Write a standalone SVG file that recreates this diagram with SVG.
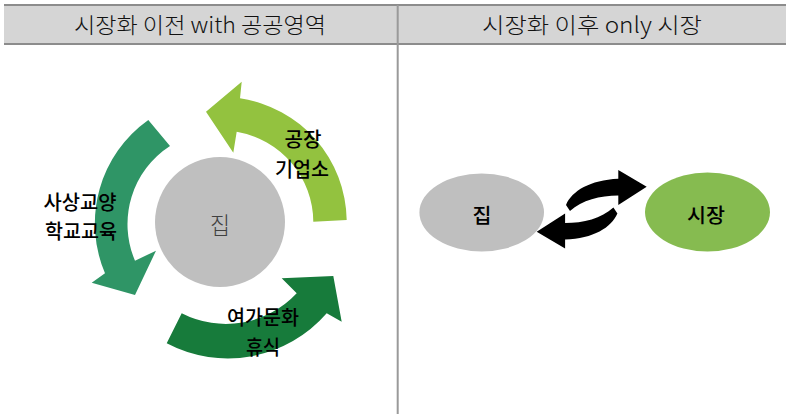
<svg xmlns="http://www.w3.org/2000/svg" width="787" height="414" viewBox="0 0 787 414">
  <style>
    .hdr { font-family: "Noto Sans CJK KR", "Noto Sans", sans-serif; font-size: 22px; font-weight: 300; fill: #111; text-anchor: middle; }
    .lbl { font-family: "Noto Sans CJK KR", "Noto Sans", sans-serif; font-size: 20px; font-weight: 500; fill: #000; text-anchor: middle; }
    .big { font-family: "Noto Sans CJK KR", "Noto Sans", sans-serif; font-size: 24px; font-weight: 300; fill: #404040; text-anchor: middle; }
    .rule { stroke: #8c8c8c; stroke-width: 2; }
  </style>
  <rect width="787" height="414" fill="#ffffff"/>
  <!-- header -->
  <rect x="4" y="5" width="782" height="39" fill="#d5d5d5"/>
  <line class="rule" x1="4" y1="5" x2="786" y2="5"/>
  <line class="rule" x1="4" y1="44" x2="786" y2="44"/>
  <line x1="397.7" y1="5" x2="397.7" y2="414" stroke="#9a9a9a" stroke-width="2"/>
  <text class="hdr" x="200" y="33" textLength="252" lengthAdjust="spacingAndGlyphs">시장화 이전 with 공공영역</text>
  <text class="hdr" x="592" y="33" textLength="220" lengthAdjust="spacingAndGlyphs">시장화 이후 only 시장</text>

  <!-- connectors (circular arrows and exchange arrows) -->
  <g id="connectors">
    <path id="arrow-factory" d="M346.7,220 A125,125 0 0 0 240,98.3 L241.7,81.7 L206,111.7 L233.3,152.7 L236.7,131.7 A92,92 0 0 1 313.3,221.7 Z" fill="#93c23f"/>
    <path id="arrow-culture" d="M148.3,120 A127,127 0 0 0 105,273.3 L91.7,282.7 L135,295 L156,250.7 L135,260.7 A93,93 0 0 1 170,146 Z" fill="#2f9566"/>
    <path id="arrow-leisure" d="M166.7,343.3 A131,131 0 0 0 326.7,313.3 L341.7,321.7 L333.3,276 L281.7,278.3 L296.7,293.3 A97,97 0 0 1 181.7,313.3 Z" fill="#177b3b"/>
    <path id="arrow-to-market" d="M566,205 C572,191 590,180 618.3,178.8 L618.3,170 L646.7,186.7 L618.3,205 L618.3,195.5 C600,195.5 582,200 570,211 Z" fill="#000"/>
    <path id="arrow-to-home" d="M566,205 C572,191 590,180 618.3,178.8 L618.3,170 L646.7,186.7 L618.3,205 L618.3,195.5 C600,195.5 582,200 570,211 Z" fill="#000" transform="rotate(180 591.7 209.2)"/>
  </g>

  <!-- labels on arrows -->
  <g id="label-factory">
    <text class="lbl" x="303" y="147" textLength="37" lengthAdjust="spacingAndGlyphs">공장</text>
    <text class="lbl" x="302" y="177" textLength="54" lengthAdjust="spacingAndGlyphs">기업소</text>
  </g>
  <g id="label-culture">
    <text class="lbl" x="80" y="210" textLength="73" lengthAdjust="spacingAndGlyphs">사상교양</text>
    <text class="lbl" x="81" y="239" textLength="72" lengthAdjust="spacingAndGlyphs">학교교육</text>
  </g>
  <g id="label-leisure">
    <text class="lbl" x="263" y="325" textLength="72" lengthAdjust="spacingAndGlyphs">여가문화</text>
    <text class="lbl" x="263" y="355" textLength="34" lengthAdjust="spacingAndGlyphs">휴식</text>
  </g>

  <!-- home circle (left) -->
  <g id="home-left">
    <circle cx="220" cy="222" r="65" fill="#bfbfbf"/>
    <text class="big" x="220" y="234" textLength="20" lengthAdjust="spacingAndGlyphs">집</text>
  </g>

  <!-- right side nodes -->
  <g id="home-right">
    <ellipse cx="481.7" cy="212.5" rx="62.3" ry="39" fill="#bfbfbf"/>
    <text class="lbl" x="482" y="223" textLength="19" lengthAdjust="spacingAndGlyphs">집</text>
  </g>
  <g id="market">
    <ellipse cx="707.5" cy="212" rx="62.5" ry="39.5" fill="#86bb50"/>
    <text class="lbl" x="706" y="223" textLength="38" lengthAdjust="spacingAndGlyphs">시장</text>
  </g>
</svg>
